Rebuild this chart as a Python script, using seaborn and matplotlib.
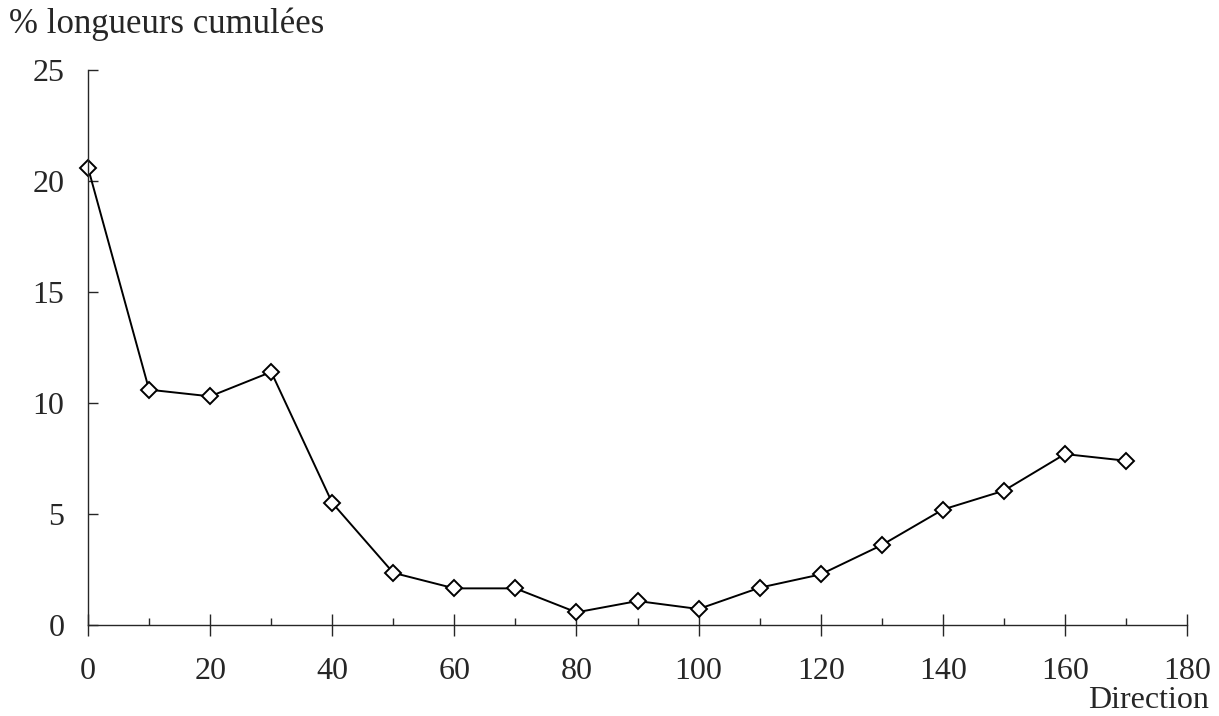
import matplotlib
matplotlib.use("Agg")
import matplotlib.pyplot as plt
import seaborn as sns
import pandas as pd
from matplotlib.ticker import MultipleLocator

# values
direction = [0, 10, 20, 30, 40, 50, 60, 70, 80, 90,
             100, 110, 120, 130, 140, 150, 160, 170]
pct_length = [20.6, 10.6, 10.3, 11.4, 5.5, 2.35, 1.65, 1.65, 0.57, 1.08,
              0.72, 1.68, 2.28, 3.6, 5.2, 6.05, 7.7, 7.4]
x_ticks = [0, 20, 40, 60, 80, 100, 120, 140, 160, 180]
y_ticks = [0, 5, 10, 15, 20, 25]

df = pd.DataFrame({'Direction': direction, 'Pct': pct_length})

sns.set_style('ticks')
plt.rcParams['font.family'] = ['Liberation Serif', 'DejaVu Serif']

fig = plt.figure(figsize=(12.19, 7.16), dpi=100)
ax = fig.add_axes([0.0722, 0.1271, 0.9016, 0.7751])

sns.lineplot(data=df, x='Direction', y='Pct', ax=ax, color='black',
             linewidth=1.4, marker='D', markersize=8.5, markerfacecolor='white',
             markeredgecolor='black', markeredgewidth=1.4, clip_on=False)

ax.set_xlim(0, 180)
ax.set_ylim(0, 25)
ax.set_xticks(x_ticks)
ax.set_yticks(y_ticks)
ax.xaxis.set_minor_locator(MultipleLocator(10))
sns.despine(ax=ax)
for s in ['left', 'bottom']:
    ax.spines[s].set_linewidth(1.0)

ax.tick_params(axis='y', direction='in', length=7, width=1, labelsize=23, pad=17)
ax.tick_params(axis='x', which='major', direction='inout', length=16, width=1,
               labelsize=23, pad=15)
ax.tick_params(axis='x', which='minor', direction='in', length=5, width=1)

ax.set_xlabel('')
ax.set_ylabel('')
fig.text(0.007, 0.954, '% longueurs cumulées', fontsize=25,
         ha='left', va='baseline')
fig.text(0.992, 0.011, 'Direction', fontsize=23, ha='right', va='baseline')

fig.savefig('out.png', dpi=100)
